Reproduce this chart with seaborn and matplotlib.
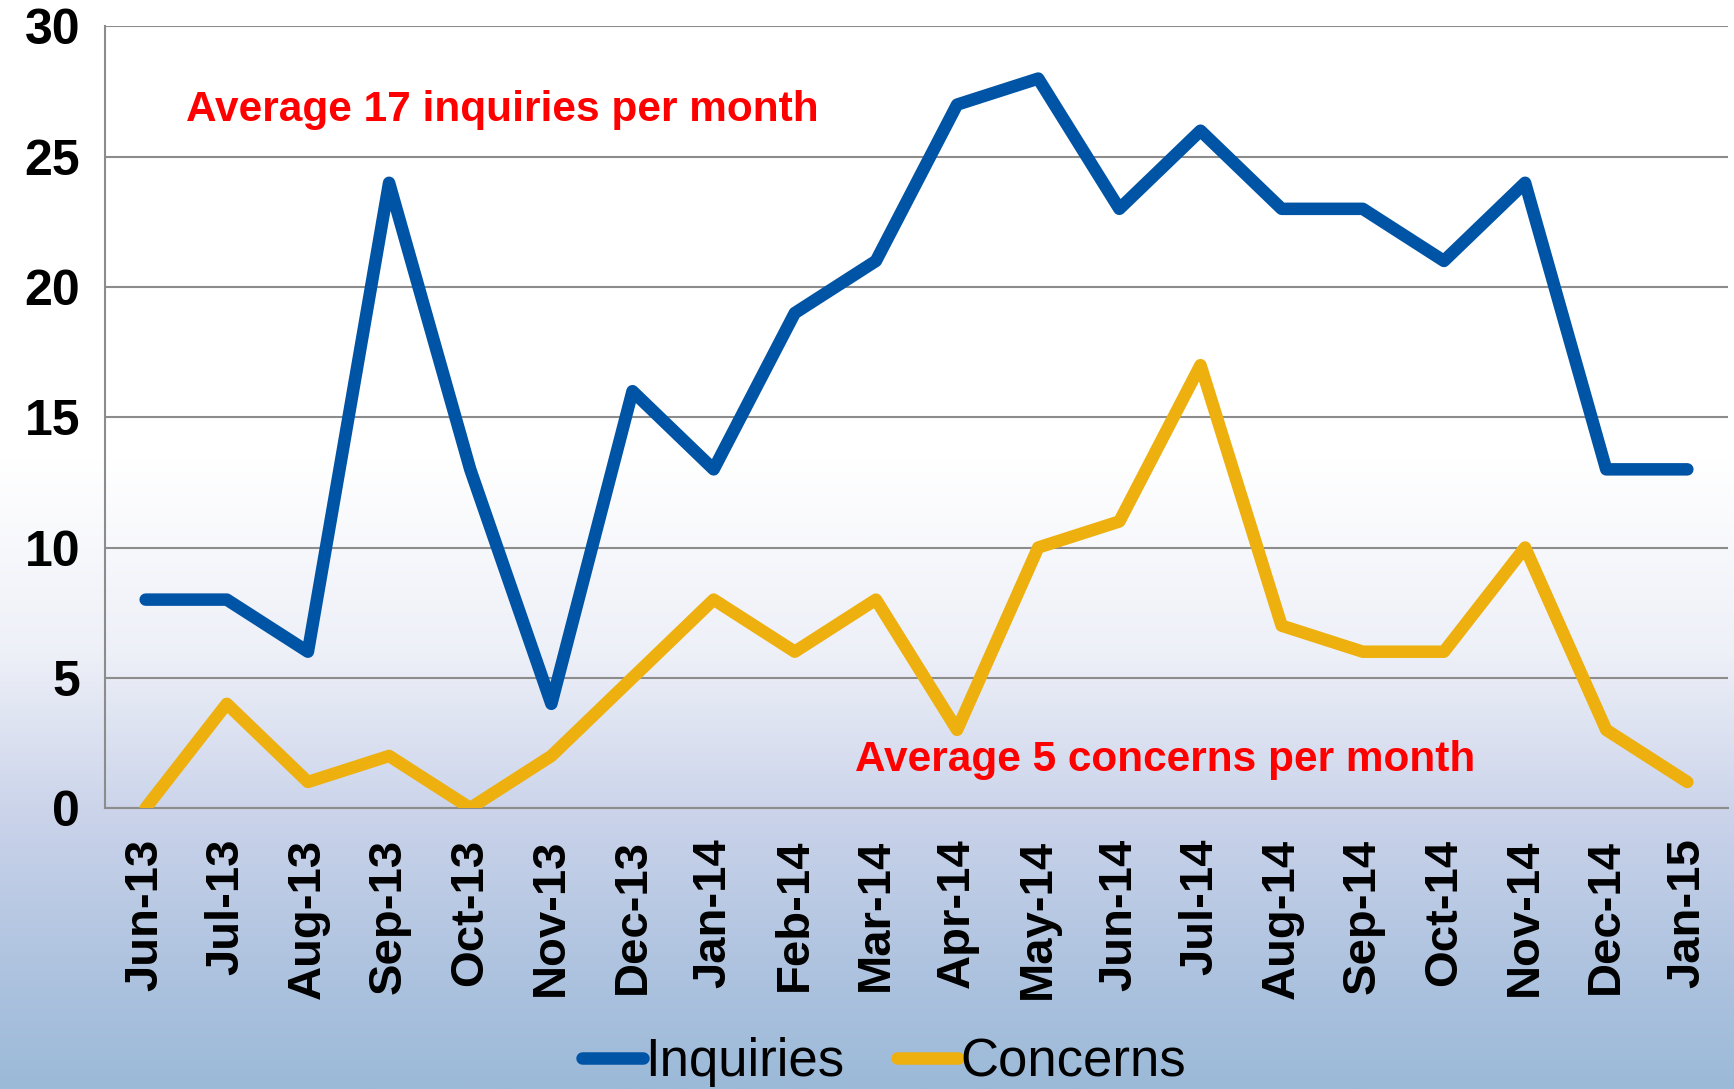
import numpy as np
import pandas as pd
import matplotlib
matplotlib.use("Agg")
import matplotlib.pyplot as plt
from matplotlib.colors import LinearSegmentedColormap
import seaborn as sns

# Monthly counts, Jun-13 .. Jan-15
months = ["Jun-13", "Jul-13", "Aug-13", "Sep-13", "Oct-13", "Nov-13", "Dec-13",
          "Jan-14", "Feb-14", "Mar-14", "Apr-14", "May-14", "Jun-14", "Jul-14",
          "Aug-14", "Sep-14", "Oct-14", "Nov-14", "Dec-14", "Jan-15"]
inquiries = [8, 8, 6, 24, 13, 4, 16, 13, 19, 21, 27, 28, 23, 26, 23, 23, 21, 24, 13, 13]
concerns = [0, 4, 1, 2, 0, 2, 5, 8, 6, 8, 3, 10, 11, 17, 7, 6, 6, 10, 3, 1]
series_names = ["Inquiries", "Concerns"]
series_colors = ["#0054a6", "#edb00e"]
y_ticks = [0, 5, 10, 15, 20, 25, 30]

df = pd.DataFrame({
    "idx": list(range(len(months))) * 2,
    "value": inquiries + concerns,
    "series": [series_names[0]] * len(months) + [series_names[1]] * len(months),
})

sns.set_style("white")
plt.rcParams["font.family"] = ["Liberation Sans", "DejaVu Sans"]
plt.rcParams["text.color"] = "black"
plt.rcParams["xtick.labelcolor"] = "black"
plt.rcParams["ytick.labelcolor"] = "black"

fig = plt.figure(figsize=(17.34, 10.89), dpi=100)

# background gradient (white top -> light blue bottom)
bg = fig.add_axes([0, 0, 1, 1], zorder=-10)
cmap = LinearSegmentedColormap.from_list(
    "bg", [(0.0, "#ffffff"), (0.42, "#ffffff"), (0.60, "#eef0f8"),
           (0.75, "#cad3ea"), (0.88, "#b0c4e0"), (1.0, "#9bbad8")])
grad = np.linspace(0, 1, 512).reshape(-1, 1)
bg.imshow(grad, aspect="auto", cmap=cmap, extent=[0, 1, 1, 0])
bg.set_axis_off()

ax = fig.add_axes([0.0606, 0.258, 0.9359, 0.7177])
ax.set_facecolor("none")

sns.lineplot(data=df, x="idx", y="value", hue="series", palette=series_colors,
             linewidth=9, ax=ax, legend=True, zorder=3)
for ln in ax.get_lines():
    ln.set_solid_capstyle("round")
    ln.set_solid_joinstyle("round")

ax.set_xlim(-0.5, len(months) - 0.5)
ax.set_ylim(0, 30)
ax.set_yticks(y_ticks)
ax.set_xticks(range(len(months)))
ax.set_xticklabels(months, rotation=90, fontsize=34, fontweight="bold")
ax.set_xticks(np.arange(-0.5, len(months), 1.0), minor=True)
ax.tick_params(axis="x", which="major", length=0, pad=22)
ax.tick_params(axis="x", which="minor", length=10, width=1.5, color="#8c8c8c")
ax.tick_params(axis="y", length=10, width=1.5, color="#8c8c8c", labelsize=36, pad=8)
for lab in ax.get_yticklabels():
    lab.set_fontweight("bold")

ax.grid(axis="y", color="#8c8c8c", linewidth=1.5, zorder=0)
ax.set_axisbelow(True)
for s in ["top", "right"]:
    ax.spines[s].set_visible(False)
for s in ["left", "bottom"]:
    ax.spines[s].set_color("#8c8c8c")
    ax.spines[s].set_linewidth(1.5)
ax.set_xlabel("")
ax.set_ylabel("")

ax.text(0.5, 26.8, "Average 17 inquiries per month", color="#ff0000",
        fontsize=30.5, fontweight="bold", ha="left", va="center")
ax.text(8.74, 1.84, "Average 5 concerns per month", color="#ff0000",
        fontsize=30.5, fontweight="bold", ha="left", va="center")

handles, labels = ax.get_legend_handles_labels()
ax.get_legend().remove()
leg = fig.legend(handles, labels, loc="lower center", bbox_to_anchor=(0.51, -0.042),
                 ncol=2, frameon=False, fontsize=38, handlelength=1.15,
                 handletextpad=0.05, columnspacing=1.0)
for h in leg.get_lines():
    h.set_linewidth(9)
    h.set_solid_capstyle("round")

fig.savefig("out.png", dpi=100)
